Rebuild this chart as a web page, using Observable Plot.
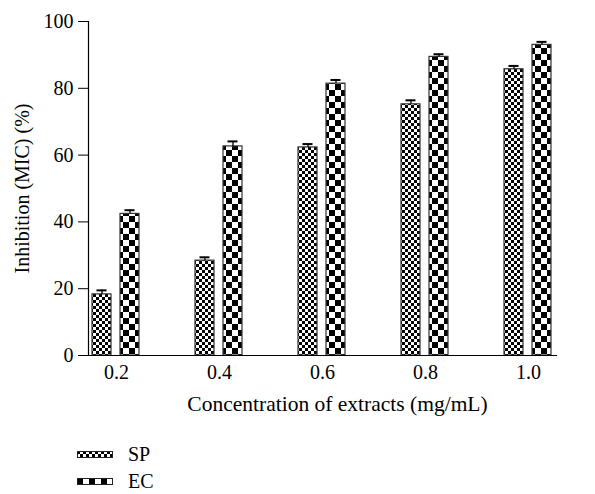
<!DOCTYPE html>
<html><head><meta charset="utf-8">
<script src="https://cdn.jsdelivr.net/npm/d3@7"></script>
<script src="https://cdn.jsdelivr.net/npm/@observablehq/plot@0.6"></script>
<style>
body{margin:0;background:#fff;font-family:"Liberation Serif","DejaVu Serif",serif;color:#000;}
#legend{padding-left:77px;margin-top:21px;font-size:20px;}
.row{display:flex;align-items:center;height:27px;}
.row svg{margin-right:15px;}
</style></head><body>
<svg width="0" height="0" style="position:absolute">
<defs>
<pattern id="sp" width="6" height="6" patternUnits="userSpaceOnUse">
<rect width="6" height="6" fill="#fff"/><rect width="3" height="3" fill="#000"/><rect x="3" y="3" width="3" height="3" fill="#000"/>
</pattern>
<pattern id="ec" width="12" height="12" patternUnits="userSpaceOnUse">
<rect width="12" height="12" fill="#fff"/><rect width="6" height="6" fill="#000"/><rect x="6" y="6" width="6" height="6" fill="#000"/>
</pattern>
</defs></svg>
<div id="chart"></div>
<div id="legend"></div>
<script>
const concentrations = ["0.2", "0.4", "0.6", "0.8", "1.0"];
const seriesNames = ["SP", "EC"];
const spValues = [18.3, 28.4, 62.3, 75.2, 85.7];
const ecValues = [42.4, 62.6, 81.4, 89.4, 93.0];
const spErrors = [1.2, 1.0, 1.0, 1.2, 1.0];
const ecErrors = [1.1, 1.5, 1.1, 0.8, 0.9];
const yTicks = [0, 20, 40, 60, 80, 100];
const xLabel = "Concentration of extracts (mg/mL)";
const yLabel = "Inhibition (MIC) (%)";
const patterns = ["url(#sp)", "url(#ec)"];

const data = concentrations.flatMap((c, i) => [
  {conc: c, series: "SP", value: spValues[i], err: spErrors[i]},
  {conc: c, series: "EC", value: ecValues[i], err: ecErrors[i]}
]);

const chart = Plot.plot({
  width: 595, height: 420,
  marginLeft: 79, marginRight: 30, marginTop: 21, marginBottom: 65,
  style: {fontFamily: "Liberation Serif, DejaVu Serif, serif", fontSize: "20px", color: "#000", background: "#fff", overflow: "visible"},
  fx: {domain: concentrations, paddingInner: 0.456, paddingOuter: 0.087},
  x: {domain: seriesNames, paddingInner: 0.32, paddingOuter: 0.16, axis: null},
  y: {domain: [0, 100]},
  color: {domain: seriesNames, range: patterns},
  marks: [
    Plot.barY(data, {fx: "conc", x: "series", y: "value", fill: "series", stroke: "#333", strokeWidth: 1.2}),
    Plot.ruleX(data, {fx: "conc", x: "series", y1: "value", y2: d => d.value + d.err, stroke: "#000", strokeWidth: 1.3}),
    Plot.tickY(data, {fx: "conc", x: "series", y: d => d.value + d.err, insetLeft: 4.5, insetRight: 4.5, stroke: "#000", strokeWidth: 2}),
    Plot.axisFx({anchor: "bottom", tickSize: 0, tickPadding: 9, label: null, fontSize: 20}),
    Plot.axisY({ticks: yTicks, tickSize: 10, tickPadding: 5, label: yLabel, labelAnchor: "center", labelArrow: "none", labelOffset: 74, fontSize: 20}),
    Plot.frame({anchor: "left", facet: "super", stroke: "#000", strokeWidth: 1.2}),
    Plot.frame({anchor: "bottom", facet: "super", stroke: "#000", strokeWidth: 1.2}),
    Plot.text([xLabel], {text: d => d, frameAnchor: "bottom", dy: 55, dx: 15, facet: "super", fontSize: 21.5})
  ]
});
document.getElementById("chart").appendChild(chart);

const legend = document.getElementById("legend");
seriesNames.forEach((name, i) => {
  const row = document.createElement("div");
  row.className = "row";
  row.innerHTML = `<svg width="36" height="8"><rect x="0.5" y="0.5" width="35" height="6" fill="${patterns[i]}" stroke="#222" stroke-width="1"/></svg><span>${name}</span>`;
  legend.appendChild(row);
});
</script>
</body></html>
